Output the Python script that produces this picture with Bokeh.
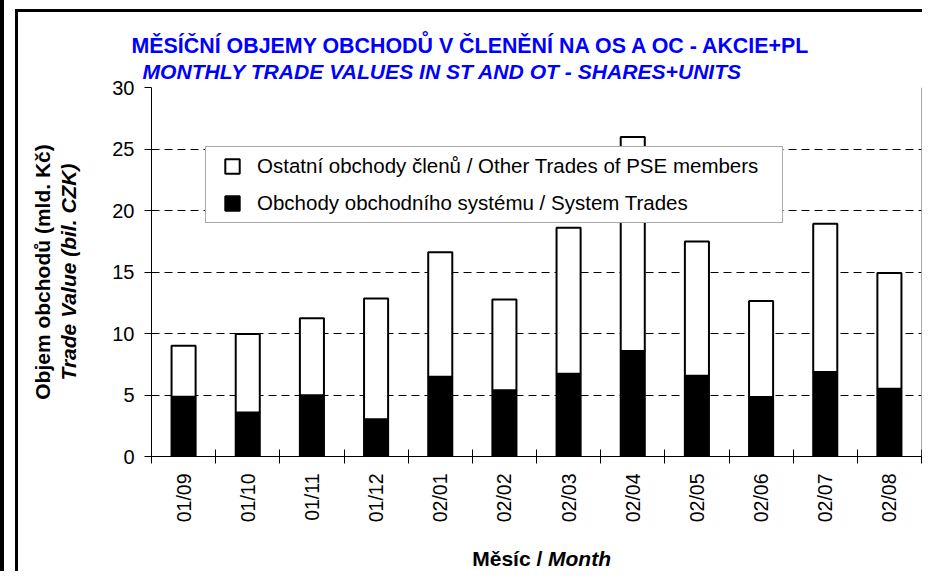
import math
from bokeh.plotting import figure
from bokeh.models import (Range1d, FixedTicker, LinearAxis, Label, Legend,
                          LegendItem, Span, ColumnDataSource)
from bokeh.embed import file_html
from bokeh.resources import INLINE

# ---- data ----
months = ["01/09", "01/10", "01/11", "01/12", "02/01", "02/02",
          "02/03", "02/04", "02/05", "02/06", "02/07", "02/08"]
system_trades = [4.86, 3.57, 4.98, 3.03, 6.48, 5.38, 6.72, 8.58, 6.57, 4.84, 6.87, 5.51]
other_trades = [4.14, 6.38, 6.27, 9.82, 10.13, 7.39, 11.88, 17.39, 10.90, 7.80, 12.05, 9.41]
y_ticks = [0, 5, 10, 15, 20, 25, 30]

title_cz = "MĚSÍČNÍ OBJEMY OBCHODŮ V ČLENĚNÍ NA OS A OC - AKCIE+PL"
title_en = "MONTHLY TRADE VALUES IN ST AND OT - SHARES+UNITS"
ylabel_cz = "Objem obchodů (mld. Kč)"
ylabel_en = "Trade Value (bil. CZK)"
xlabel_cz = "Měsíc /"
xlabel_en = "Month"
legend_other = "Ostatní obchody členů / Other Trades of PSE members"
legend_system = "Obchody obchodního systému / System Trades"

FONT = "Liberation Sans"

n = len(months)
centers = [i + 0.5 for i in range(n)]
bounds = [float(i) for i in range(n + 1)]
totals = [s + o for s, o in zip(system_trades, other_trades)]

src = ColumnDataSource(data=dict(x=centers, system=system_trades, total=totals, month=months))

p = figure(width=922, height=571, x_range=Range1d(0, n), y_range=Range1d(0, 30),
           output_backend="svg", toolbar_location=None, title=None,
           min_border_left=151, min_border_right=1, min_border_top=87, min_border_bottom=112,
           background_fill_color="white", border_fill_color=None)
p.outline_line_color = None
# page frame lines of the original document
p.styles = {"box-shadow": "inset 4px 0 0 0 black, inset 15px 9px 0 0 white, "
                          "inset 18px 12px 0 0 black"}

# grid
p.xgrid.visible = False
p.ygrid.ticker = FixedTicker(ticks=y_ticks)
p.ygrid.grid_line_color = "black"
p.ygrid.grid_line_dash = "8 5"
p.ygrid.grid_line_width = 1

# bars
p.vbar(x="x", width=0.375, bottom=0, top="system", source=src,
       fill_color="black", line_color="black", line_width=2)
p.vbar(x="x", width=0.375, bottom="system", top="total", source=src,
       fill_color="white", line_color="black", line_width=2)

# right border of plot area
p.add_layout(Span(location=n, dimension="height", line_color="#555555", line_width=1))

# x axis
xa = p.xaxis[0]
xa.ticker = FixedTicker(ticks=centers, minor_ticks=bounds)
xa.major_label_overrides = {c: m for c, m in zip(centers, months)}
xa.major_tick_in = 0
xa.major_tick_out = 0
xa.minor_tick_in = 7
xa.minor_tick_out = 7
xa.minor_tick_line_color = "black"
xa.axis_line_color = "black"
xa.major_label_orientation = math.pi / 2
xa.major_label_standoff = 10
xa.major_label_text_font = FONT
xa.major_label_text_font_size = "19.5px"
xa.major_label_text_color = "black"

# y axis (inner, with ticks)
ya = p.yaxis[0]
ya.ticker = FixedTicker(ticks=y_ticks, minor_ticks=[])
ya.major_tick_in = 0
ya.major_tick_out = 7
ya.minor_tick_in = 0
ya.minor_tick_out = 0
ya.axis_line_color = "black"
ya.major_tick_line_color = "black"
ya.major_label_standoff = 10
ya.major_label_text_font = FONT
ya.major_label_text_font_size = "20px"
ya.major_label_text_color = "black"
ya.axis_label = ylabel_en
ya.axis_label_text_font = FONT
ya.axis_label_text_font_size = "21px"
ya.axis_label_text_font_style = "bold italic"
ya.axis_label_text_color = "black"
ya.axis_label_standoff = 29

# y axis (outer, label only)
yo = LinearAxis(ticker=FixedTicker(ticks=[], minor_ticks=[]))
yo.axis_line_color = None
yo.major_tick_in = 0
yo.major_tick_out = 0
yo.minor_tick_in = 0
yo.minor_tick_out = 0
yo.major_label_standoff = 0
yo.axis_label = ylabel_cz
yo.axis_label_text_font = FONT
yo.axis_label_text_font_size = "21px"
yo.axis_label_text_font_style = "bold"
yo.axis_label_text_color = "black"
yo.axis_label_standoff = 1
p.add_layout(yo, "left")

# titles (placed in the top panel so they are not clipped to the plot area)
p.add_layout(Label(x=-0.312, y=33.39, text=title_cz, text_font=FONT, text_font_size="21.4px",
                   text_font_style="bold", text_color="#0000FF",
                   text_align="left", text_baseline="alphabetic"), "above")
p.add_layout(Label(x=-0.140, y=31.29, text=title_en, text_font=FONT, text_font_size="21.1px",
                   text_font_style="bold italic", text_color="#0000FF",
                   text_align="left", text_baseline="alphabetic"), "above")

# x axis title (two styles)
p.add_layout(Label(x=6.09, y=-8.28, text=xlabel_cz, text_font=FONT, text_font_size="21px",
                   text_font_style="bold", text_color="black",
                   text_align="right", text_baseline="alphabetic"), "below")
p.add_layout(Label(x=6.18, y=-8.28, text=xlabel_en, text_font=FONT, text_font_size="21px",
                   text_font_style="bold italic", text_color="black",
                   text_align="left", text_baseline="alphabetic"), "below")

# legend swatches (zero-size markers on the plot, full squares in the legend)
r_other = p.scatter(x="x", y="total", source=src, marker="square", size=0,
                    fill_color="white", line_color="black", line_width=2)
r_sys = p.scatter(x="x", y="system", source=src, marker="square", size=0,
                  fill_color="black", line_color="black", line_width=2)
legend = Legend(items=[LegendItem(label=legend_other, renderers=[r_other]),
                       LegendItem(label=legend_system, renderers=[r_sys])],
                location=(54, 233), orientation="vertical",
                padding=1, spacing=1, margin=0,
                glyph_width=50, glyph_height=36, label_standoff=0,
                label_height=24, label_width=524,
                label_text_font=FONT, label_text_font_size="20.5px",
                label_text_color="black",
                border_line_color="#555555", border_line_width=1,
                background_fill_color="white", background_fill_alpha=1)
p.add_layout(legend, "center")

open("out.html", "w").write(file_html(p, INLINE))
